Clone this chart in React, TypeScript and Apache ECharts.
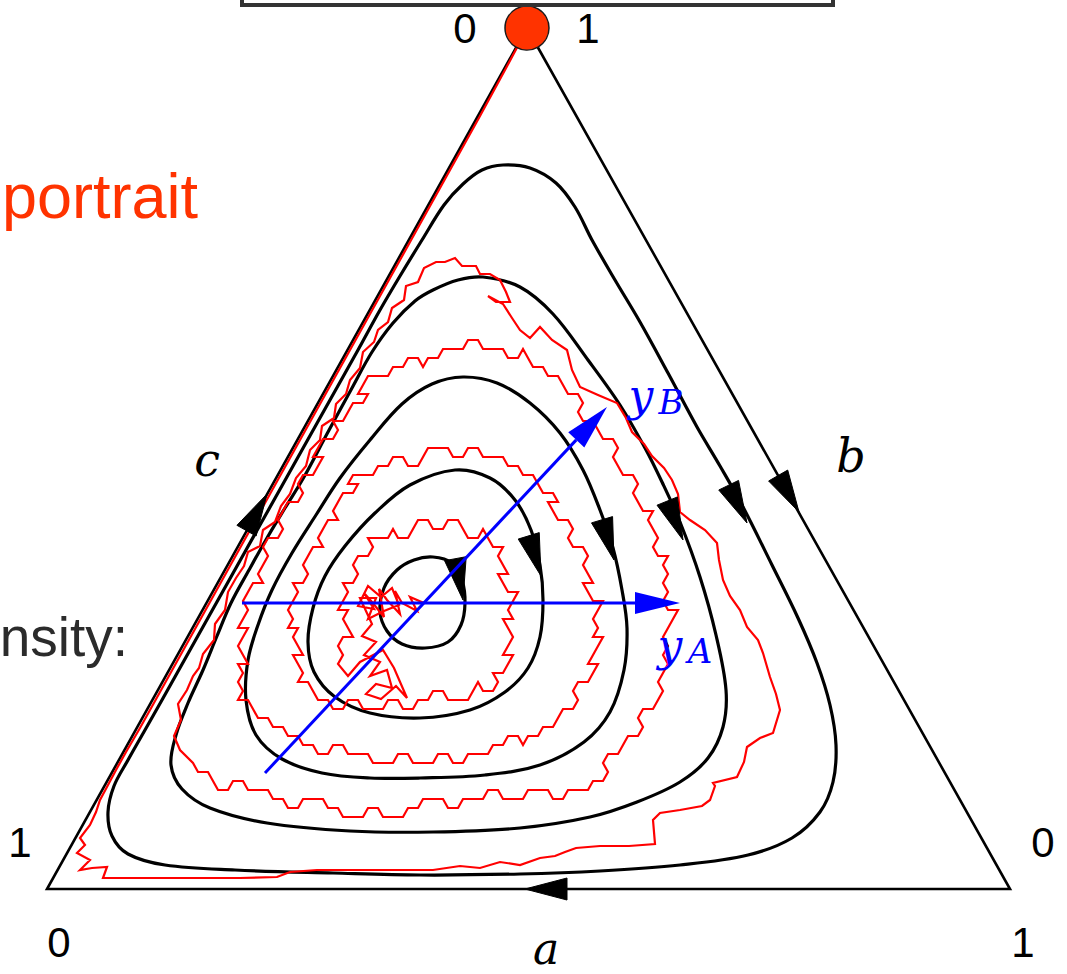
import React, { useEffect, useRef } from "react";
import * as echarts from "echarts";

// Simplex drawn in plot units (x to the right, y downward).
const TRIANGLE: number[][] = [[527, 28], [47, 889], [1010, 889], [527, 28]];

// Closed deterministic orbits, outermost first.
const ORBIT_A: number[][] = [
  [503, 165], [530, 168], [556, 183], [575, 207], [592, 240], [615, 280], [640, 322], [668, 373],
  [697, 427], [720, 466], [742, 505], [772, 565], [798, 618], [817, 663], [830, 705], [836, 745],
  [833, 782], [820, 812], [792, 838], [748, 855], [680, 865], [600, 871], [520, 874], [420, 875],
  [333, 873], [235, 870], [165, 865], [128, 854], [112, 836], [108, 812], [114, 786], [128, 760],
  [145, 730], [162, 700], [190, 650], [218, 600], [246, 550], [274, 500], [302, 450], [330, 400],
  [358, 350], [380, 310], [400, 276], [422, 240], [444, 205], [463, 184], [482, 170],
];
const ORBIT_B: number[][] = [
  [483, 277], [520, 287], [553, 314], [588, 360], [620, 405], [645, 448], [662, 482], [680, 522],
  [700, 577], [716, 635], [726, 690], [723, 727], [708, 758], [680, 782], [637, 802], [590, 817],
  [520, 828], [433, 832], [350, 831], [267, 823], [210, 808], [182, 789], [171, 765], [176, 735],
  [188, 703], [203, 670], [217, 636], [231, 603], [249, 570], [267, 538], [285, 508], [304, 477],
  [328, 432], [352, 388], [372, 352], [393, 323], [415, 301], [433, 290], [458, 280],
];
const ORBIT_C: number[][] = [
  [463, 377], [497, 383], [530, 403], [560, 433], [583, 470], [600, 510], [613, 548], [622, 590],
  [627, 628], [624, 670], [610, 712], [584, 742], [540, 765], [485, 775], [420, 778], [370, 778],
  [322, 773], [282, 759], [256, 735], [246, 700], [248, 660], [258, 625], [272, 590], [292, 553],
  [316, 515], [340, 478], [370, 440], [402, 404], [432, 384],
];
const ORBIT_D: number[][] = [
  [455, 470], [490, 478], [515, 500], [531, 530], [540, 565], [543, 600], [540, 637], [528, 668],
  [505, 692], [470, 710], [420, 718], [370, 713], [335, 697], [314, 672], [308, 642], [313, 608],
  [325, 576], [345, 546], [375, 513], [410, 485],
];
const ORBIT_E: number[][] = [
  [433, 557], [452, 563], [462, 580], [465, 603], [461, 625], [448, 642], [425, 648], [402, 644],
  [387, 631], [380, 612], [384, 588], [397, 570], [414, 560],
];
const ORBITS = [ORBIT_A, ORBIT_B, ORBIT_C, ORBIT_D, ORBIT_E];

// Flow direction heads: [base x, base y, tip x, tip y].
const FLOW_ARROWS: number[][] = [
  [456, 562, 463, 600],
  [530, 540, 541, 576],
  [603, 523, 614, 560],
  [668, 503, 683, 540],
  [730, 488, 747, 523],
  [779, 477, 799, 512],
  [248, 528, 267, 494],
  [568, 889, 525, 889],
];

// One stochastic run of the finite population (lattice steps), from the interior fixed point to the corner.
const RUN_START: number[][] = [
  [424, 603], [410, 597], [417, 611], [402, 603], [395, 591], [400, 614], [387, 600], [379, 589],
  [384, 617], [372, 602], [364, 593], [374, 609], [358, 606], [368, 586], [381, 597], [392, 588],
  [399, 605], [384, 611], [368, 619], [376, 598], [360, 598], [372, 624], [362, 636], [376, 642],
  [364, 655], [380, 662], [370, 676], [387, 670], [392, 688], [376, 684], [366, 694], [381, 699],
  [396, 686], [407, 698], [394, 668], [383, 650], [360, 662], [348, 676], [338, 664],
];
const RUN_TURN_1: number[][] = [
  [343, 655], [338, 646], [343, 637], [353, 637], [348, 628], [343, 619], [348, 610], [338, 610],
  [343, 601], [348, 592], [343, 583], [353, 583], [358, 574], [353, 565], [358, 556], [368, 556],
  [373, 547], [368, 538], [378, 538], [388, 538], [393, 529], [398, 538], [408, 538], [413, 529],
  [418, 520], [428, 520], [433, 529], [443, 529], [448, 520], [458, 520], [463, 529], [468, 538],
  [478, 538], [483, 529], [488, 538], [493, 547], [503, 547], [498, 556], [503, 565], [508, 574],
  [498, 574], [503, 583], [508, 592], [518, 592], [513, 601], [508, 610], [513, 619], [503, 619],
  [508, 628], [513, 637], [508, 646], [503, 655], [513, 655], [508, 664], [503, 673], [493, 673],
  [498, 682], [493, 691], [483, 691], [478, 682], [473, 691], [468, 700], [458, 700], [448, 700],
  [443, 691], [433, 691], [428, 700], [418, 700], [413, 709], [403, 709], [398, 700], [388, 700],
  [383, 709], [373, 709], [363, 709], [358, 700], [348, 700], [343, 709], [333, 709], [328, 700],
];
const RUN_TURN_2: number[][] = [
  [318, 700], [313, 691], [308, 682], [298, 682], [303, 673], [298, 664], [293, 655], [303, 655],
  [298, 646], [293, 637], [298, 628], [288, 628], [293, 619], [288, 610], [293, 601], [298, 592],
  [293, 583], [303, 583], [308, 574], [303, 565], [308, 556], [313, 547], [323, 547], [318, 538],
  [323, 529], [328, 520], [338, 520], [333, 511], [338, 502], [343, 493], [353, 493], [358, 484],
  [348, 484], [353, 475], [363, 475], [373, 475], [378, 466], [388, 466], [393, 457], [403, 457],
  [408, 466], [418, 466], [423, 457], [428, 448], [438, 448], [448, 448], [453, 457], [463, 457],
  [468, 448], [478, 448], [483, 457], [493, 457], [503, 457], [508, 466], [518, 466], [523, 475],
  [533, 475], [538, 484], [543, 493], [553, 493], [558, 502], [548, 502], [553, 511], [558, 520],
  [568, 520], [573, 529], [568, 538], [573, 547], [583, 547], [588, 556], [583, 565], [588, 574],
  [593, 583], [583, 583], [588, 592], [593, 601], [603, 601], [598, 610], [593, 619], [598, 628],
  [593, 637], [603, 637], [598, 646], [593, 655], [588, 664], [598, 664], [593, 673], [588, 682],
  [578, 682], [573, 691], [578, 700], [573, 709], [563, 709], [558, 718], [553, 727], [543, 727],
  [538, 736], [528, 736], [523, 745], [518, 736], [508, 736], [503, 745], [493, 745], [488, 754],
  [478, 754], [468, 754], [463, 763], [453, 763], [448, 754], [438, 754], [433, 763], [423, 763],
  [413, 763], [408, 754], [398, 754], [393, 763], [383, 763], [373, 763], [368, 754], [358, 754],
  [348, 754], [343, 745], [333, 745], [328, 754], [318, 754], [313, 745], [303, 745], [298, 736],
  [288, 736], [283, 727], [273, 727], [268, 718],
];
const RUN_TURN_3: number[][] = [
  [258, 718], [253, 709], [248, 700], [238, 700], [243, 691], [238, 682], [243, 673], [238, 664],
  [248, 664], [243, 655], [238, 646], [243, 637], [248, 628], [238, 628], [243, 619], [248, 610],
  [243, 601], [248, 592], [253, 583], [263, 583], [258, 574], [263, 565], [268, 556], [263, 547],
  [268, 538], [278, 538], [283, 529], [278, 520], [283, 511], [288, 502], [298, 502], [303, 493],
  [298, 484], [303, 475], [313, 475], [318, 466], [323, 457], [313, 457], [318, 448], [323, 439],
  [333, 439], [338, 430], [333, 421], [343, 421], [348, 412], [353, 403], [363, 403], [368, 394],
  [358, 394], [363, 385], [368, 376], [378, 376], [388, 376], [393, 367], [403, 367], [408, 358],
  [418, 358], [423, 367], [428, 358], [438, 358], [443, 349], [453, 349], [463, 349], [468, 340],
  [478, 340], [483, 349], [493, 349], [503, 349], [508, 358], [518, 358], [523, 349], [528, 358],
  [533, 367], [543, 367], [548, 376], [558, 376], [563, 385], [568, 394], [578, 394], [583, 403],
  [578, 412], [583, 421], [593, 421], [598, 430], [603, 439], [613, 439], [618, 448], [613, 457],
  [618, 466], [623, 475], [633, 475], [638, 484], [633, 493], [638, 502], [643, 511], [653, 511],
  [648, 520], [653, 529], [658, 538], [653, 547], [658, 556], [668, 556], [663, 565], [668, 574],
  [663, 583], [668, 592], [663, 601], [668, 610], [678, 610], [673, 619], [668, 628], [663, 637],
  [668, 646], [663, 655], [668, 664], [663, 673], [658, 682], [663, 691], [658, 700], [653, 709],
  [643, 709], [638, 718], [643, 727], [638, 736], [628, 736], [623, 745], [618, 754], [608, 754],
  [603, 763], [608, 772], [603, 781], [593, 781], [588, 790], [578, 790], [568, 790], [563, 799],
  [553, 799], [548, 790], [538, 790], [528, 790], [523, 799], [513, 799], [503, 799], [498, 790],
  [488, 790], [483, 799], [473, 799], [463, 799], [458, 808], [448, 808], [443, 799], [433, 799],
  [423, 799], [418, 808], [408, 808], [403, 817], [393, 817], [383, 817], [378, 808], [368, 808],
  [363, 817], [353, 817], [343, 817], [338, 808], [328, 808], [323, 799], [313, 799], [303, 799],
  [298, 808], [288, 808], [283, 799], [273, 799], [268, 790], [258, 790], [248, 790], [243, 781],
  [233, 781], [228, 790], [218, 790], [213, 781], [208, 772], [198, 772], [193, 763],
];
const RUN_END: number[][] = [
  [180, 750], [174, 736], [181, 720], [178, 704], [187, 690], [193, 676], [199, 668], [203, 654],
  [214, 640], [215, 624], [225, 610], [228, 592], [236, 578], [244, 566], [248, 552], [260, 546],
  [263, 530], [275, 522], [281, 506], [290, 494], [296, 478], [306, 466], [310, 450], [320, 440],
  [322, 426], [334, 418], [336, 404], [346, 394], [350, 380], [360, 368], [363, 352], [374, 342],
  [378, 330], [388, 322], [392, 308], [404, 300], [406, 286], [418, 282], [424, 268], [436, 262],
  [445, 262], [455, 258], [462, 266], [476, 266], [480, 274], [490, 274], [500, 280], [506, 292],
  [510, 302], [496, 302], [488, 296], [503, 304], [512, 318], [520, 330], [530, 338], [540, 327],
  [552, 340], [567, 350], [572, 370], [580, 387], [598, 395], [617, 403], [626, 418], [632, 432],
  [644, 444], [652, 456], [664, 468], [672, 480], [678, 494], [680, 512], [690, 520], [705, 530],
  [717, 543], [719, 560], [723, 580], [730, 596], [740, 610], [747, 627], [758, 640], [763, 653],
  [770, 677], [776, 694], [780, 710], [773, 733], [760, 738], [747, 747], [744, 762], [737, 777],
  [713, 783], [715, 786], [710, 800], [702, 806], [680, 810], [660, 813], [653, 820], [655, 844],
  [629, 846], [600, 846], [576, 848], [565, 852], [555, 856], [540, 858], [520, 865], [500, 862],
  [480, 868], [460, 866], [433, 870], [400, 870], [360, 870], [317, 870], [290, 872], [277, 877],
  [240, 878], [200, 878], [150, 878], [103, 878], [107, 867], [92, 868], [80, 870], [90, 860],
  [77, 853], [85, 845], [80, 838], [90, 825], [96, 812], [100, 800], [108, 785], [116, 770],
  [126, 752], [140, 728], [150, 710], [180, 656], [210, 602], [240, 548], [270, 494], [300, 440],
  [330, 386], [360, 332], [390, 278], [420, 224], [450, 170], [480, 116], [505, 70], [520, 42],
];
const STOCHASTIC_PATH = [...RUN_START, ...RUN_TURN_1, ...RUN_TURN_2, ...RUN_TURN_3, ...RUN_END];

// Linearised coordinates around the fixed point: [from x, from y, to x, to y].
const LOCAL_AXES: number[][] = [
  [242, 603, 680, 603],
  [265, 773, 607, 407],
];

// Absorbing corner reached by the run.
const ABSORBING_STATE: number[][] = [[527, 28]];

const SANS = '"Liberation Sans", Arial, sans-serif';
const MATH = '"DejaVu Serif", "Liberation Serif", serif';

function headPolygon(tip: number[], from: number[], len: number, half: number) {
  const dx = tip[0] - from[0];
  const dy = tip[1] - from[1];
  const d = Math.hypot(dx, dy) || 1;
  const ux = dx / d;
  const uy = dy / d;
  const bx = tip[0] - ux * len;
  const by = tip[1] - uy * len;
  return [
    [tip[0], tip[1]],
    [bx - uy * half, by + ux * half],
    [bx + uy * half, by - ux * half],
  ];
}

function label(text: string, x: number, y: number, size: number, family: string, fill: string, extra: any = {}) {
  return {
    type: "text",
    x,
    y,
    silent: true,
    z: 100,
    style: {
      text,
      fill,
      fontSize: size,
      fontFamily: family,
      textAlign: "center",
      textVerticalAlign: "middle",
      ...extra,
    },
  };
}

export default function App() {
  const ref = useRef<HTMLDivElement>(null);

  useEffect(() => {
    document.body.style.margin = "0";
    const chart = echarts.init(ref.current as HTMLDivElement, null, { renderer: "svg" });

    const option: any = {
      animation: false,
      backgroundColor: "#ffffff",
      grid: { left: 0, right: 0, top: 0, bottom: 0 },
      xAxis: { type: "value", min: 0, max: 1067, show: false },
      yAxis: { type: "value", min: 0, max: 974, inverse: true, show: false },
      series: [
        {
          type: "line",
          data: TRIANGLE,
          symbol: "none",
          silent: true,
          z: 2,
          lineStyle: { color: "#000", width: 2.6, join: "miter" },
        },
        {
          type: "custom",
          coordinateSystem: "cartesian2d",
          silent: true,
          z: 3,
          encode: { x: 0, y: 1 },
          data: ORBITS.map((o, i) => [o[0][0], o[0][1], i]),
          renderItem: (_p: any, api: any) => {
            const orbit = ORBITS[api.value(2)];
            const pts = orbit.map((p) => api.coord(p));
            return {
              type: "polygon",
              shape: { points: pts, smooth: 0.35 },
              style: { fill: "none", stroke: "#000", lineWidth: 3.2 },
            };
          },
        },
        {
          type: "line",
          data: STOCHASTIC_PATH,
          symbol: "none",
          silent: true,
          z: 4,
          lineStyle: { color: "#ff0000", width: 2.2, join: "miter" },
        },
        {
          type: "custom",
          coordinateSystem: "cartesian2d",
          silent: true,
          z: 5,
          encode: { x: [0, 2], y: [1, 3] },
          data: FLOW_ARROWS,
          renderItem: (_p: any, api: any) => {
            const from = api.coord([api.value(0), api.value(1)]);
            const tip = api.coord([api.value(2), api.value(3)]);
            return {
              type: "polygon",
              shape: { points: headPolygon(tip, from, 42, 11) },
              style: { fill: "#000", stroke: "#000", lineWidth: 1 },
            };
          },
        },
        {
          type: "custom",
          coordinateSystem: "cartesian2d",
          silent: true,
          z: 6,
          encode: { x: [0, 2], y: [1, 3] },
          data: LOCAL_AXES,
          renderItem: (_p: any, api: any) => {
            const from = api.coord([api.value(0), api.value(1)]);
            const tip = api.coord([api.value(2), api.value(3)]);
            const head = headPolygon(tip, from, 45, 11);
            const bx = (head[1][0] + head[2][0]) / 2;
            const by = (head[1][1] + head[2][1]) / 2;
            return {
              type: "group",
              children: [
                {
                  type: "line",
                  shape: { x1: from[0], y1: from[1], x2: bx, y2: by },
                  style: { stroke: "#0000ff", lineWidth: 3 },
                },
                {
                  type: "polygon",
                  shape: { points: head },
                  style: { fill: "#0000ff" },
                },
              ],
            };
          },
        },
        {
          type: "scatter",
          data: ABSORBING_STATE,
          symbol: "circle",
          symbolSize: 44,
          silent: true,
          z: 7,
          itemStyle: { color: "#ff3300", opacity: 1, borderColor: "#1a1a1a", borderWidth: 1.5 },
        },
      ],
      graphic: [
        {
          type: "rect",
          silent: true,
          z: 100,
          shape: { x: 242, y: -20, width: 591, height: 25 },
          style: { fill: "none", stroke: "#333", lineWidth: 4 },
        },
        label("0", 465, 28, 42, SANS, "#000"),
        label("1", 588, 28, 42, SANS, "#000"),
        label("1", 20, 842, 42, SANS, "#000"),
        label("0", 1043, 842, 42, SANS, "#000"),
        label("0", 59, 942, 42, SANS, "#000"),
        label("1", 1023, 942, 42, SANS, "#000"),
        label("a", 546, 948, 44, MATH, "#000", { fontStyle: "italic" }),
        label("b", 851, 456, 46, MATH, "#000", { fontStyle: "italic" }),
        label("c", 207, 460, 46, MATH, "#000", { fontStyle: "italic" }),
        label("y", 641, 395, 44, MATH, "#0000ff", { fontStyle: "italic" }),
        label("B", 671, 402, 34, MATH, "#0000ff", { fontStyle: "italic" }),
        label("y", 670, 645, 44, MATH, "#0000ff", { fontStyle: "italic" }),
        label("A", 700, 651, 34, MATH, "#0000ff", { fontStyle: "italic" }),
        label("portrait", 2, 196, 63, SANS, "#ff3300", {
          textAlign: "left",
          shadowColor: "rgba(0,0,0,0.35)",
          shadowBlur: 2,
          shadowOffsetX: 3,
          shadowOffsetY: 3,
        }),
        label("nsity:", 128, 637, 55, SANS, "#2b2b2b", {
          textAlign: "right",
          shadowColor: "rgba(0,0,0,0.3)",
          shadowBlur: 2,
          shadowOffsetX: 3,
          shadowOffsetY: 3,
        }),
      ],
    };

    chart.setOption(option);
    return () => chart.dispose();
  }, []);

  return (
    <div
      ref={ref}
      style={{ position: "absolute", left: 0, top: 0, width: 1067, height: 974, background: "#fff" }}
    />
  );
}
